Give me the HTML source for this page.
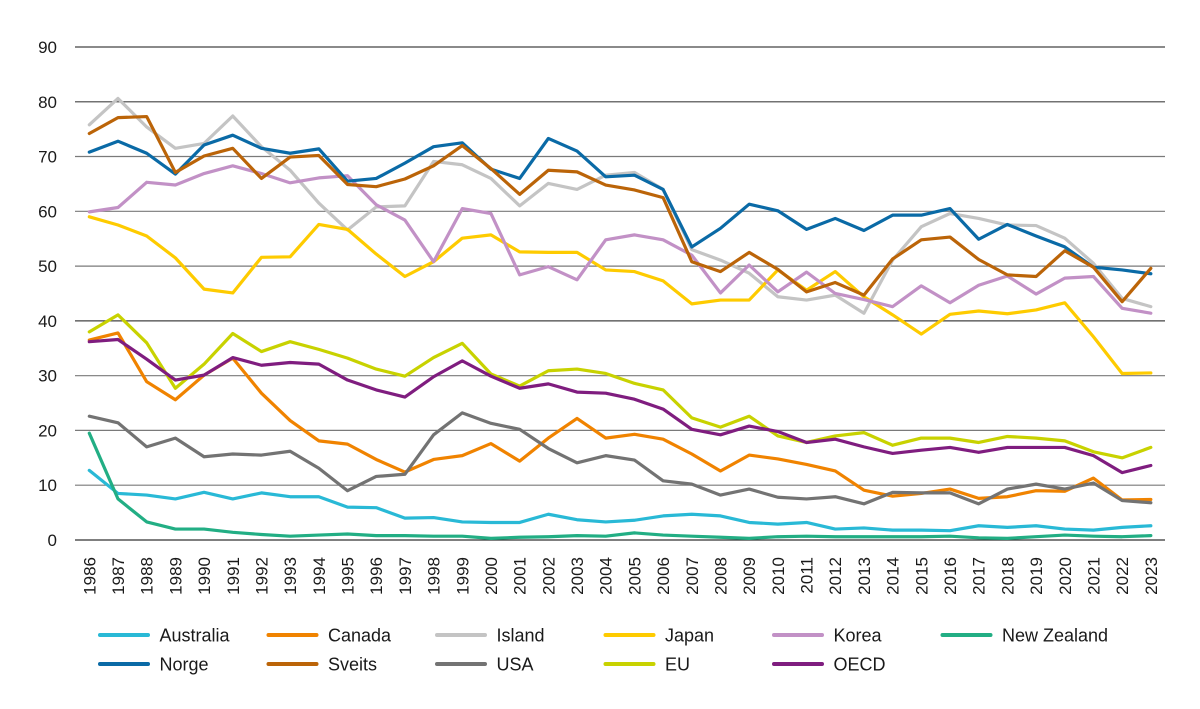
<!DOCTYPE html>
<html><head><meta charset="utf-8"><style>
html,body{margin:0;padding:0;background:#fff;}
svg{display:block;font-family:"Liberation Sans",sans-serif;}
</style></head><body>
<svg width="1200" height="709" viewBox="0 0 1200 709" xmlns="http://www.w3.org/2000/svg">
<g stroke="#7a7a7a" stroke-width="1.2">
<line x1="75" y1="540" x2="1165" y2="540" stroke="#333"/>
<line x1="75" y1="485.2" x2="1165" y2="485.2"/>
<line x1="75" y1="430.4" x2="1165" y2="430.4"/>
<line x1="75" y1="375.7" x2="1165" y2="375.7"/>
<line x1="75" y1="320.9" x2="1165" y2="320.9" stroke="#444"/>
<line x1="75" y1="266.1" x2="1165" y2="266.1"/>
<line x1="75" y1="211.3" x2="1165" y2="211.3"/>
<line x1="75" y1="156.5" x2="1165" y2="156.5"/>
<line x1="75" y1="101.8" x2="1165" y2="101.8" stroke="#444"/>
<line x1="75" y1="47" x2="1165" y2="47" stroke="#444"/>
</g>
<g font-size="17" fill="#1a1a1a" text-anchor="end">
<text x="57" y="546">0</text>
<text x="57" y="491.2">10</text>
<text x="57" y="436.4">20</text>
<text x="57" y="381.7">30</text>
<text x="57" y="326.9">40</text>
<text x="57" y="272.1">50</text>
<text x="57" y="217.3">60</text>
<text x="57" y="162.5">70</text>
<text x="57" y="107.8">80</text>
<text x="57" y="53">90</text>
</g>
<g font-size="17" fill="#1a1a1a" text-anchor="end">
<text transform="translate(89.3,557) rotate(-90)" dy="6">1986</text>
<text transform="translate(118.0,557) rotate(-90)" dy="6">1987</text>
<text transform="translate(146.7,557) rotate(-90)" dy="6">1988</text>
<text transform="translate(175.4,557) rotate(-90)" dy="6">1989</text>
<text transform="translate(204.1,557) rotate(-90)" dy="6">1990</text>
<text transform="translate(232.8,557) rotate(-90)" dy="6">1991</text>
<text transform="translate(261.4,557) rotate(-90)" dy="6">1992</text>
<text transform="translate(290.1,557) rotate(-90)" dy="6">1993</text>
<text transform="translate(318.8,557) rotate(-90)" dy="6">1994</text>
<text transform="translate(347.5,557) rotate(-90)" dy="6">1995</text>
<text transform="translate(376.2,557) rotate(-90)" dy="6">1996</text>
<text transform="translate(404.9,557) rotate(-90)" dy="6">1997</text>
<text transform="translate(433.6,557) rotate(-90)" dy="6">1998</text>
<text transform="translate(462.3,557) rotate(-90)" dy="6">1999</text>
<text transform="translate(491.0,557) rotate(-90)" dy="6">2000</text>
<text transform="translate(519.7,557) rotate(-90)" dy="6">2001</text>
<text transform="translate(548.3,557) rotate(-90)" dy="6">2002</text>
<text transform="translate(577.0,557) rotate(-90)" dy="6">2003</text>
<text transform="translate(605.7,557) rotate(-90)" dy="6">2004</text>
<text transform="translate(634.4,557) rotate(-90)" dy="6">2005</text>
<text transform="translate(663.1,557) rotate(-90)" dy="6">2006</text>
<text transform="translate(691.8,557) rotate(-90)" dy="6">2007</text>
<text transform="translate(720.5,557) rotate(-90)" dy="6">2008</text>
<text transform="translate(749.2,557) rotate(-90)" dy="6">2009</text>
<text transform="translate(777.9,557) rotate(-90)" dy="6">2010</text>
<text transform="translate(806.6,557) rotate(-90)" dy="6">2011</text>
<text transform="translate(835.2,557) rotate(-90)" dy="6">2012</text>
<text transform="translate(863.9,557) rotate(-90)" dy="6">2013</text>
<text transform="translate(892.6,557) rotate(-90)" dy="6">2014</text>
<text transform="translate(921.3,557) rotate(-90)" dy="6">2015</text>
<text transform="translate(950.0,557) rotate(-90)" dy="6">2016</text>
<text transform="translate(978.7,557) rotate(-90)" dy="6">2017</text>
<text transform="translate(1007.4,557) rotate(-90)" dy="6">2018</text>
<text transform="translate(1036.1,557) rotate(-90)" dy="6">2019</text>
<text transform="translate(1064.8,557) rotate(-90)" dy="6">2020</text>
<text transform="translate(1093.5,557) rotate(-90)" dy="6">2021</text>
<text transform="translate(1122.1,557) rotate(-90)" dy="6">2022</text>
<text transform="translate(1150.8,557) rotate(-90)" dy="6">2023</text>
</g>
<g transform="translate(89.3,540) scale(28.69,-5.478)" fill="none" stroke-width="3.2" stroke-linejoin="round" stroke-linecap="round">
<polyline vector-effect="non-scaling-stroke" stroke="#29b9d6" points="0,12.7 1,8.5 2,8.2 3,7.5 4,8.7 5,7.5 6,8.6 7,7.9 8,7.9 9,6.0 10,5.9 11,4.0 12,4.1 13,3.3 14,3.2 15,3.2 16,4.7 17,3.7 18,3.3 19,3.6 20,4.4 21,4.7 22,4.4 23,3.2 24,2.9 25,3.2 26,2.0 27,2.2 28,1.8 29,1.8 30,1.7 31,2.6 32,2.3 33,2.6 34,2.0 35,1.8 36,2.3 37,2.6"/>
<polyline vector-effect="non-scaling-stroke" stroke="#f08300" points="0,36.5 1,37.8 2,28.9 3,25.6 4,30.1 5,33.2 6,26.8 7,21.8 8,18.1 9,17.5 10,14.7 11,12.4 12,14.7 13,15.4 14,17.6 15,14.4 16,18.6 17,22.2 18,18.6 19,19.3 20,18.4 21,15.7 22,12.6 23,15.5 24,14.8 25,13.8 26,12.6 27,9.1 28,8.0 29,8.5 30,9.3 31,7.6 32,7.9 33,9.0 34,8.9 35,11.3 36,7.3 37,7.4"/>
<polyline vector-effect="non-scaling-stroke" stroke="#c4c4c4" points="0,75.8 1,80.6 2,75.4 3,71.5 4,72.4 5,77.4 6,71.8 7,67.5 8,61.5 9,56.6 10,60.8 11,61.0 12,69.1 13,68.5 14,66.0 15,61.0 16,65.1 17,64.0 18,66.6 19,67.1 20,64.0 21,53.0 22,51.1 23,48.7 24,44.4 25,43.8 26,44.7 27,41.4 28,51.1 29,57.2 30,59.6 31,58.7 32,57.5 33,57.4 34,55.1 35,50.5 36,44.1 37,42.6"/>
<polyline vector-effect="non-scaling-stroke" stroke="#fecb00" points="0,59.0 1,57.5 2,55.5 3,51.5 4,45.8 5,45.1 6,51.6 7,51.7 8,57.6 9,56.7 10,52.2 11,48.1 12,50.8 13,55.1 14,55.7 15,52.6 16,52.5 17,52.5 18,49.3 19,49.0 20,47.3 21,43.1 22,43.8 23,43.8 24,49.3 25,45.6 26,49.0 27,44.4 28,41.1 29,37.6 30,41.2 31,41.8 32,41.3 33,42.0 34,43.3 35,37.1 36,30.4 37,30.5"/>
<polyline vector-effect="non-scaling-stroke" stroke="#c291c6" points="0,59.9 1,60.7 2,65.3 3,64.8 4,66.9 5,68.3 6,66.9 7,65.2 8,66.1 9,66.5 10,61.2 11,58.4 12,50.8 13,60.5 14,59.6 15,48.4 16,49.9 17,47.5 18,54.8 19,55.7 20,54.8 21,52.0 22,45.1 23,50.2 24,45.3 25,48.9 26,45.0 27,43.9 28,42.6 29,46.4 30,43.3 31,46.5 32,48.2 33,44.9 34,47.8 35,48.1 36,42.3 37,41.4"/>
<polyline vector-effect="non-scaling-stroke" stroke="#22ae84" points="0,19.5 1,7.5 2,3.3 3,2.0 4,2.0 5,1.4 6,1.0 7,0.7 8,0.9 9,1.1 10,0.8 11,0.8 12,0.7 13,0.7 14,0.3 15,0.5 16,0.6 17,0.8 18,0.7 19,1.3 20,0.9 21,0.7 22,0.5 23,0.3 24,0.6 25,0.7 26,0.6 27,0.6 28,0.6 29,0.6 30,0.7 31,0.4 32,0.3 33,0.6 34,0.9 35,0.7 36,0.6 37,0.8"/>
<polyline vector-effect="non-scaling-stroke" stroke="#0a6aa6" points="0,70.8 1,72.8 2,70.6 3,66.8 4,72.1 5,73.9 6,71.5 7,70.6 8,71.4 9,65.5 10,66.0 11,68.8 12,71.8 13,72.5 14,67.7 15,66.0 16,73.3 17,71.0 18,66.3 19,66.6 20,64.0 21,53.5 22,56.9 23,61.3 24,60.1 25,56.7 26,58.7 27,56.5 28,59.3 29,59.3 30,60.5 31,54.9 32,57.6 33,55.5 34,53.5 35,49.8 36,49.3 37,48.6"/>
<polyline vector-effect="non-scaling-stroke" stroke="#bb6408" points="0,74.2 1,77.1 2,77.3 3,67.1 4,70.1 5,71.5 6,66.0 7,69.9 8,70.2 9,64.9 10,64.5 11,65.9 12,68.3 13,72.0 14,67.8 15,63.1 16,67.5 17,67.2 18,64.8 19,63.9 20,62.5 21,50.8 22,49.0 23,52.5 24,49.4 25,45.3 26,47.0 27,44.7 28,51.3 29,54.8 30,55.3 31,51.2 32,48.4 33,48.1 34,52.8 35,49.8 36,43.5 37,49.6"/>
<polyline vector-effect="non-scaling-stroke" stroke="#737373" points="0,22.6 1,21.4 2,17.0 3,18.6 4,15.2 5,15.7 6,15.5 7,16.2 8,13.1 9,9.0 10,11.6 11,12.0 12,19.2 13,23.2 14,21.3 15,20.2 16,16.7 17,14.1 18,15.4 19,14.6 20,10.8 21,10.2 22,8.2 23,9.3 24,7.8 25,7.5 26,7.9 27,6.6 28,8.7 29,8.6 30,8.6 31,6.6 32,9.3 33,10.2 34,9.3 35,10.4 36,7.2 37,6.8"/>
<polyline vector-effect="non-scaling-stroke" stroke="#c8d200" points="0,38.0 1,41.1 2,36.0 3,27.7 4,32.1 5,37.7 6,34.4 7,36.2 8,34.8 9,33.2 10,31.2 11,29.9 12,33.3 13,35.9 14,30.3 15,28.1 16,30.9 17,31.2 18,30.4 19,28.6 20,27.4 21,22.3 22,20.6 23,22.6 24,19.0 25,17.8 26,19.0 27,19.6 28,17.3 29,18.6 30,18.6 31,17.8 32,18.9 33,18.6 34,18.1 35,16.1 36,15.0 37,16.9"/>
<polyline vector-effect="non-scaling-stroke" stroke="#7f1d7f" points="0,36.2 1,36.6 2,33.0 3,29.2 4,30.1 5,33.3 6,31.9 7,32.4 8,32.1 9,29.2 10,27.4 11,26.1 12,29.8 13,32.7 14,29.9 15,27.7 16,28.5 17,27.0 18,26.8 19,25.7 20,23.9 21,20.2 22,19.2 23,20.8 24,19.8 25,17.8 26,18.4 27,17.0 28,15.8 29,16.4 30,16.9 31,16.0 32,16.9 33,16.9 34,16.9 35,15.4 36,12.3 37,13.6"/>
</g>
<g stroke-width="4" stroke-linecap="round">
<line x1="100" y1="635" x2="148" y2="635" stroke="#29b9d6"/>
<line x1="268.5" y1="635" x2="316.5" y2="635" stroke="#f08300"/>
<line x1="437" y1="635" x2="485" y2="635" stroke="#c4c4c4"/>
<line x1="605.5" y1="635" x2="653.5" y2="635" stroke="#fecb00"/>
<line x1="774" y1="635" x2="822" y2="635" stroke="#c291c6"/>
<line x1="942.5" y1="635" x2="990.5" y2="635" stroke="#22ae84"/>
<line x1="100" y1="664" x2="148" y2="664" stroke="#0a6aa6"/>
<line x1="268.5" y1="664" x2="316.5" y2="664" stroke="#bb6408"/>
<line x1="437" y1="664" x2="485" y2="664" stroke="#737373"/>
<line x1="605.5" y1="664" x2="653.5" y2="664" stroke="#c8d200"/>
<line x1="774" y1="664" x2="822" y2="664" stroke="#7f1d7f"/>
</g>
<g font-size="18" fill="#1a1a1a">
<text x="159.5" y="641.5">Australia</text>
<text x="328" y="641.5">Canada</text>
<text x="496.5" y="641.5">Island</text>
<text x="665" y="641.5">Japan</text>
<text x="833.5" y="641.5">Korea</text>
<text x="1002" y="641.5">New Zealand</text>
<text x="159.5" y="670.5">Norge</text>
<text x="328" y="670.5">Sveits</text>
<text x="496.5" y="670.5">USA</text>
<text x="665" y="670.5">EU</text>
<text x="833.5" y="670.5">OECD</text>
</g>
</svg>
</body></html>
